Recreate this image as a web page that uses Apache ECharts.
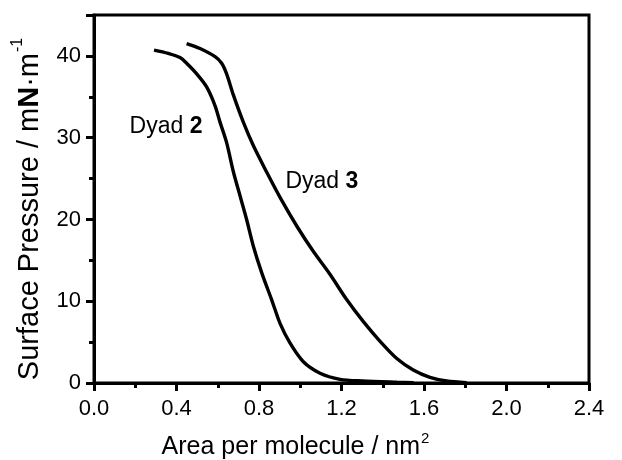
<!DOCTYPE html>
<html>
<head>
<meta charset="utf-8">
<script src="https://cdn.jsdelivr.net/npm/echarts@6/dist/echarts.min.js"></script>
<style>
html,body{margin:0;padding:0;background:#fff;}
#chart{width:622px;height:460px;}
</style>
</head>
<body>
<div id="chart"></div>
<script>
// Data (area per molecule nm^2, surface pressure mN/m)
var dyad2 = [
  [0.291,40.7],[0.36,40.3],[0.417,39.8],[0.449,39.1],[0.498,37.8],[0.546,36.2],
  [0.587,33.9],[0.611,31.9],[0.643,29.4],[0.676,25.8],[0.708,22.9],[0.740,20.0],
  [0.773,16.7],[0.813,13.5],[0.861,10.2],[0.902,7.3],[0.950,4.9],[1.015,2.6],
  [1.096,1.2],[1.193,0.45],[1.30,0.25],[1.47,0.1],[1.55,0.05]
];
var dyad3 = [
  [0.449,41.5],[0.514,40.9],[0.587,39.9],[0.619,39.1],[0.643,37.8],[0.676,35.2],
  [0.724,31.9],[0.773,29.0],[0.837,25.8],[0.902,22.7],[0.983,19.2],[1.063,16.1],
  [1.144,13.3],[1.225,10.2],[1.306,7.5],[1.387,5.1],[1.468,3.0],[1.548,1.6],
  [1.629,0.7],[1.71,0.25],[1.807,0.05]
];
var labels = [
  {name:'Dyad ', num:'2', pos:[0.349,31.3]},
  {name:'Dyad ', num:'3', pos:[1.105,24.6]}
];
var xTicks = {min:0, max:2.4, interval:0.4};
var yTicks = {min:0, max:45, interval:10};

var FONT = 'Liberation Sans, Arial, sans-serif';
var chart = echarts.init(document.getElementById('chart'));
var lineStyle = {color:'#000', width:3.4};
var axisCommon = {
  splitLine:{show:false},
  axisLine:{lineStyle:{color:'#000', width:3}},
  axisTick:{inside:false, length:8, lineStyle:{color:'#000', width:3}},
  minorTick:{show:true, splitNumber:2, length:5, lineStyle:{color:'#000', width:3}}
};
chart.setOption({
  animation:false,
  backgroundColor:'#fff',
  grid:{left:94, right:33, top:15, bottom:77, outerBoundsMode:'none', containLabel:false,
    show:true, borderColor:'#000', borderWidth:3, backgroundColor:'transparent'},
  xAxis:Object.assign({
    type:'value', min:xTicks.min, max:xTicks.max, interval:xTicks.interval,
    axisLabel:{color:'#000', fontSize:22, fontFamily:FONT, margin:15,
      formatter:function(v){return v.toFixed(1);}},
    name:'{a|Area per molecule / nm}{s|2}',
    nameLocation:'middle', nameGap:48,
    nameTextStyle:{padding:[0,92,0,0], rich:{
      a:{fontSize:25, fontFamily:FONT, color:'#000', verticalAlign:'bottom'},
      s:{fontSize:15, fontFamily:FONT, color:'#000', verticalAlign:'bottom', padding:[0,0,14,1]}
    }}
  }, axisCommon),
  yAxis:Object.assign({
    type:'value', min:yTicks.min, max:yTicks.max, interval:yTicks.interval,
    axisLabel:{color:'#000', fontSize:22, fontFamily:FONT, margin:13,
      formatter:function(v){return v%10===0 ? String(v) : '';}},
    name:'{a|Surface Pressure / m}{b|N}{a|·m}{s|-1}',
    nameLocation:'middle', nameGap:50, nameRotate:90,
    nameTextStyle:{padding:[0,20,0,0], rich:{
      a:{fontSize:29, fontFamily:FONT, color:'#000', verticalAlign:'bottom'},
      b:{fontSize:29, fontFamily:FONT, color:'#000', fontWeight:'bold', verticalAlign:'bottom'},
      s:{fontSize:16, fontFamily:FONT, color:'#000', verticalAlign:'bottom', padding:[0,0,18,1]}
    }}
  }, axisCommon),
  series:[
    {type:'line', data:dyad2, showSymbol:false, smooth:0.3, lineStyle:lineStyle, silent:true},
    {type:'line', data:dyad3, showSymbol:false, smooth:0.3, lineStyle:lineStyle, silent:true},
    {type:'scatter', symbolSize:0, silent:true, itemStyle:{opacity:1},
      data:labels.map(function(l){return {value:l.pos, name:l.name, num:l.num};}),
      label:{show:true, position:'inside', color:'#000', opacity:1, textBorderWidth:0,
        formatter:function(p){return '{a|'+p.data.name+'}{b|'+p.data.num+'}';},
        rich:{
          a:{fontSize:23, fontFamily:FONT, color:'#000', textBorderWidth:0},
          b:{fontSize:23, fontFamily:FONT, color:'#000', fontWeight:'bold', textBorderWidth:0}
        }}
    }
  ]
});
</script>
</body>
</html>
